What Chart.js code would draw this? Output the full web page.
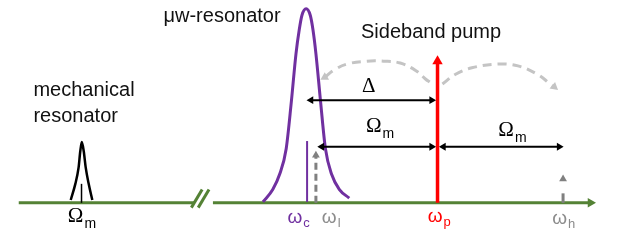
<!DOCTYPE html>
<html>
<head>
<meta charset="utf-8">
<script src="https://cdn.jsdelivr.net/npm/chart.js@4/dist/chart.umd.min.js"></script>
<style>
  html, body { margin: 0; background: #fff; }
  canvas { display: block; }
</style>
</head>
<body>
<canvas id="c" width="623" height="245"></canvas>
<script>
// x = frequency (drawing units), y = height above the frequency axis (0 = axis)

// mechanical resonance (narrow peak at Omega_m)
const mechX = [66, 70.7, 74, 75.7, 77.3, 79.3, 81.3, 84.3, 88];
const mechY = [3, 20, 37, 54, 64, 54, 37, 20, 3];

// microwave cavity resonance
const cavX = [262, 272, 279, 285.7, 291, 295.7, 299, 301.7, 306, 310.3, 313, 316, 320.7, 325.7, 332, 340, 350];
const cavY = [1, 14, 30, 57, 107, 157, 182, 197, 204, 197, 182, 157, 107, 57, 30, 14, 5];

// frequency axis segments (with the break) and break marks
const axisX1 = [13, 192];
const axisX2 = [211, 596];
const breakA = [[189, -5], [200, 14]];
const breakB = [[196, -5], [207, 14]];

// marker frequencies
const omegaM = 77;
const omegaC = 307;
const omegaL = 316;
const omegaP = 440;
const omegaH = 568;

// marker heights
const omegaMH = 20;
const omegaCH = 65;
const omegaLH = 50;
const omegaHH = 25;
const pumpH = 149;

// double arrows: [from, to, height]
const deltaArrow = [311, 434, 108];
const omLeftArrow = [322, 434, 59];
const omRightArrow = [446, 564, 59];

// dashed scattering arcs
const arcLX = [432, 428, 418, 402, 385, 368, 348, 335, 325];
const arcLY = [127, 130, 139, 147, 149, 149, 146, 140, 132];
const arcRX = [445, 458, 475, 502, 522, 542, 555, 559];
const arcRY = [125, 135, 142, 146, 144, 135, 125, 122];

// text
const textLabels = ['mechanical', 'resonator', 'μw-resonator', 'Sideband pump'];
const textX = [28, 28, 280, 362];
const textY = [112, 85, 190, 173];

const symMain = ['Δ', 'Ω', 'Ω', 'Ω', 'ω', 'ω', 'ω', 'ω'];
const symSub = ['', 'm', 'm', 'm', 'c', 'l', 'p', 'h'];
const symX = [363, 63, 367, 502, 287, 322, 430, 557];
const symY = [117, -20, 74, 70, -21, -21, -20, -22];

const GREEN = '#548235';
const PURPLE = '#7030a0';
const RED = '#ff0000';
const GRAY = '#808080';
const LIGHT = '#c4c4c4';
const LABEL_GRAY = '#8c8c8c';
const symColor = ['#000', '#000', '#000', '#000', PURPLE, LABEL_GRAY, RED, LABEL_GRAY];

const pts = (xs, ys) => xs.map((x, i) => ({ x, y: ys[i] }));

const line = (data, color, width, extra = {}) => Object.assign({
  data,
  borderColor: color,
  backgroundColor: color,
  borderWidth: width,
  showLine: true,
  fill: false,
  pointRadius: 0,
  pointBorderWidth: 0,
  pointStyle: 'triangle'
}, extra);

// arrowhead on the last point only
const headEnd = (n, r, rot) => ({
  pointRadius: Array.from({ length: n }, (_, i) => (i === n - 1 ? r : 0)),
  pointRotation: Array.from({ length: n }, (_, i) => (i === n - 1 ? rot : 0))
});

const dbl = (a) => line([{ x: a[0], y: a[2] }, { x: a[1], y: a[2] }], '#000', 2,
  { pointRadius: [4.5, 4.5], pointRotation: [270, 90] });

const datasets = [
  line(pts(arcLX, arcLY), LIGHT, 3, Object.assign({ tension: 0.4, borderDash: [9, 6] }, headEnd(arcLX.length, 5, 240))),
  line(pts(arcRX, arcRY), LIGHT, 3, Object.assign({ tension: 0.4, borderDash: [9, 6] }, headEnd(arcRX.length, 5, 130))),
  line([{ x: omegaP, y: 0 }, { x: omegaP, y: pumpH }], RED, 3.5, headEnd(2, 6, 0)),
  dbl(deltaArrow),
  dbl(omLeftArrow),
  dbl(omRightArrow),
  line(pts(cavX, cavY), PURPLE, 3, { cubicInterpolationMode: 'monotone' }),
  line([{ x: omegaC, y: 1 }, { x: omegaC, y: omegaCH }], PURPLE, 2),
  line([{ x: omegaL, y: 0 }, { x: omegaL, y: omegaLH - 2 }, { x: omegaL, y: omegaLH }], GRAY, 3,
    Object.assign({ borderDash: [7, 4] }, headEnd(3, 4.5, 0))),
  line([{ x: omegaH, y: 0 }, { x: omegaH, y: 10 }, { x: omegaH, y: null }, { x: omegaH, y: omegaHH }], GRAY, 3,
    Object.assign({ spanGaps: false }, headEnd(4, 4.5, 0))),
  line(pts(mechX, mechY), '#000', 2.5, { cubicInterpolationMode: 'monotone' }),
  line([{ x: omegaM, y: 0 }, { x: omegaM, y: omegaMH }], '#000', 1.5),
  line(pts(axisX1, [0, 0]), GREEN, 3),
  line(pts(axisX2, [0, 0]), GREEN, 3, headEnd(2, 5.5, 90)),
  line(breakA.map(p => ({ x: p[0], y: p[1] })), GREEN, 3),
  line(breakB.map(p => ({ x: p[0], y: p[1] })), GREEN, 3)
];

const textPlugin = {
  id: 'texts',
  afterDatasetsDraw(chart) {
    const { ctx } = chart;
    const sx = chart.scales.x;
    const sy = chart.scales.y;
    ctx.save();
    ctx.textBaseline = 'alphabetic';
    ctx.fillStyle = '#111';
    ctx.font = '20px "Liberation Sans", Arial, sans-serif';
    textLabels.forEach((t, i) => {
      ctx.textAlign = i === 2 ? 'right' : 'left';
      ctx.fillText(t, sx.getPixelForValue(textX[i]), sy.getPixelForValue(textY[i]));
    });
    ctx.textAlign = 'left';
    symMain.forEach((s, i) => {
      const px = sx.getPixelForValue(symX[i]);
      const py = sy.getPixelForValue(symY[i]);
      const greek = s === 'ω';
      ctx.fillStyle = symColor[i];
      ctx.font = greek ? '19px "Liberation Sans", Arial, sans-serif' : '21px "Liberation Serif", "Times New Roman", serif';
      ctx.fillText(s, px, py);
      if (symSub[i]) {
        const w = ctx.measureText(s).width;
        ctx.font = greek ? '13px "Liberation Sans", Arial, sans-serif' : '14px "Liberation Sans", Arial, sans-serif';
        ctx.fillText(symSub[i], px + w + (greek ? 1 : 1), py + (greek ? 4 : 6));
      }
    });
    ctx.restore();
  }
};

new Chart(document.getElementById('c'), {
  type: 'scatter',
  data: { datasets },
  options: {
    responsive: false,
    animation: false,
    devicePixelRatio: 1,
    layout: { padding: 0 },
    clip: false,
    scales: {
      x: { type: 'linear', min: 0, max: 623, display: false },
      y: { type: 'linear', min: -38, max: 207, display: false }
    },
    plugins: { legend: { display: false }, tooltip: { enabled: false } },
    events: []
  },
  plugins: [textPlugin]
});
</script>
</body>
</html>
